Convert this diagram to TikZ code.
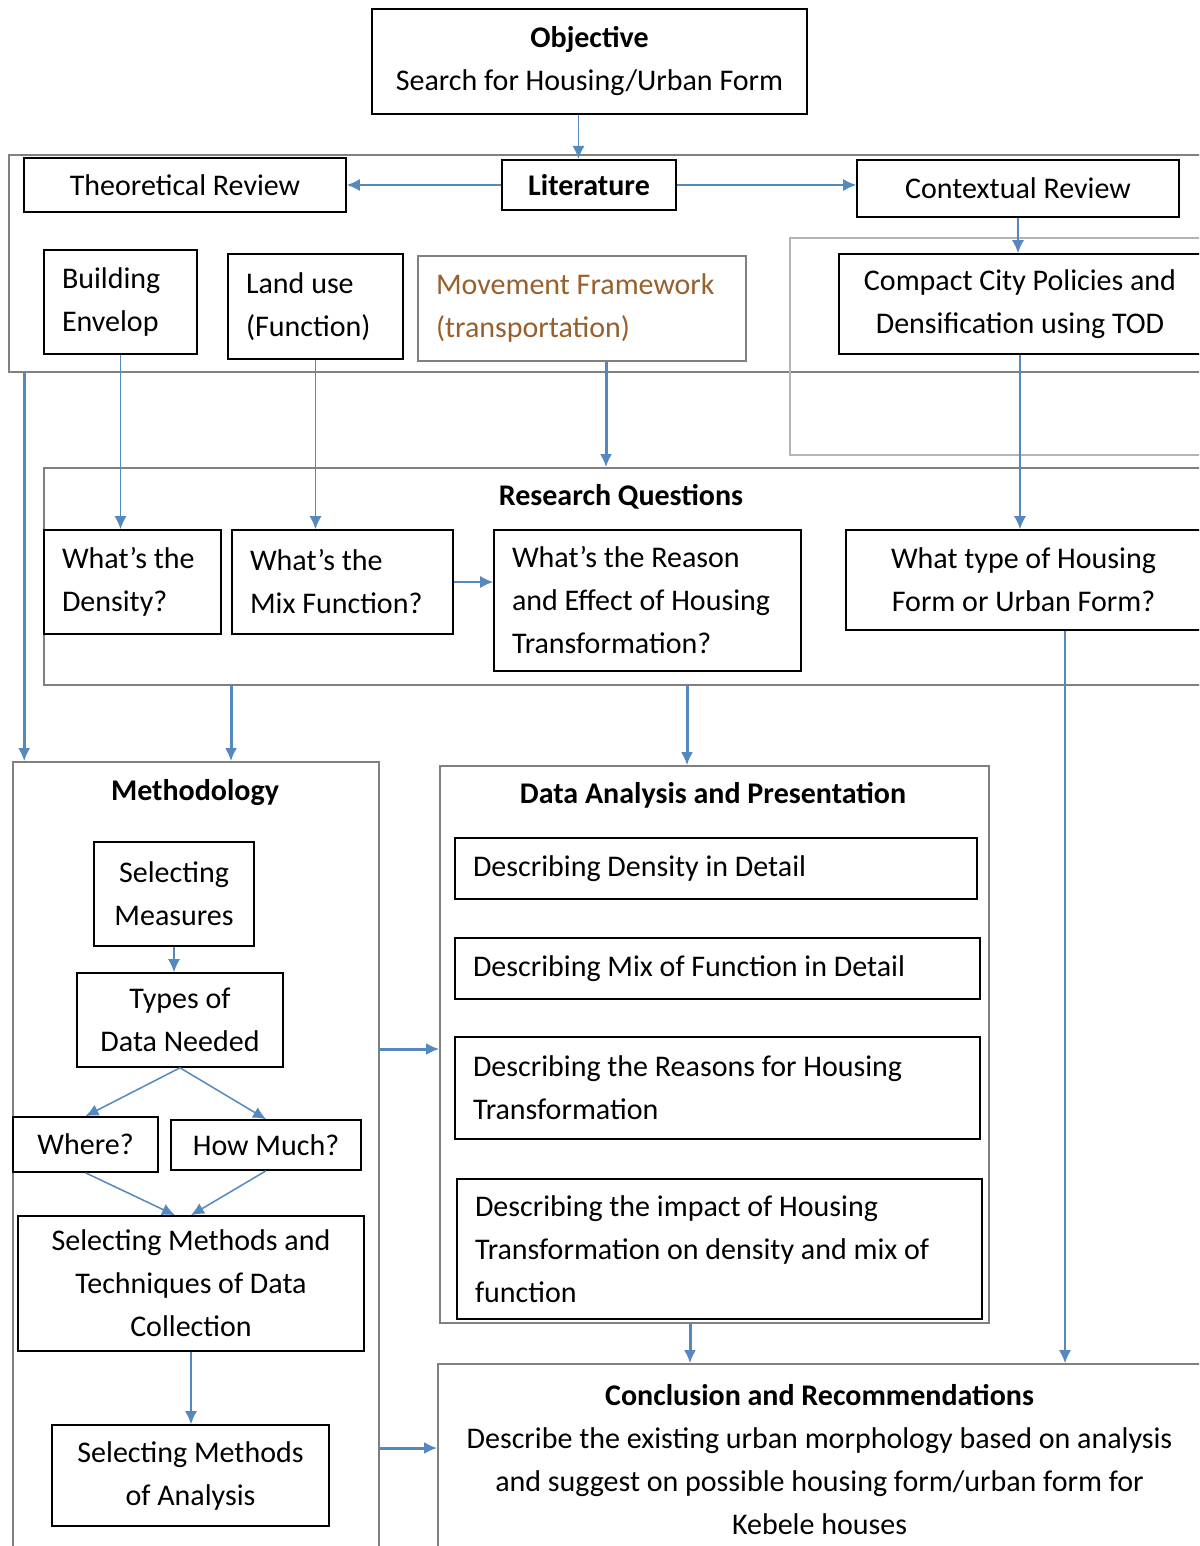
\documentclass[tikz,border=0pt]{standalone}
\usepackage{fontspec}
\setmainfont{Carlito}
\usetikzlibrary{arrows.meta}
\definecolor{arrowblue}{RGB}{84,136,190}
\definecolor{framegray}{RGB}{128,128,128}
\definecolor{lightframe}{RGB}{180,180,180}
\definecolor{movbrown}{RGB}{152,96,45}
\tikzstyle{box} = [rectangle, draw=black, line width=1.6pt, inner xsep=18pt, inner ysep=0pt]
\tikzstyle{leftbox} = [box, align=flush left]
\tikzstyle{midbox} = [box, align=center, inner xsep=4pt]
\tikzstyle{frame} = [rectangle, draw=framegray, line width=1.6pt, inner sep=0pt]
\tikzstyle{arrow} = [draw=arrowblue, line width=1.5pt, -{Latex[length=13pt,width=12pt]}]
\tikzstyle{thickarrow} = [arrow, line width=3pt]

\begin{document}
\begin{tikzpicture}[x=1pt, y=-1pt, every node/.style={font=\fontsize{30}{43}\selectfont}]
\path [use as bounding box, fill=white] (0,0) rectangle (1199,1546);
\clip (0,0) rectangle (1199,1546);

% frames
\node (litframe) [frame, minimum width=1206pt, minimum height=217pt] at (612,263.5) {};
\node (ctxframe) [frame, draw=lightframe, minimum width=425pt, minimum height=217pt] at (1002.5,346.5) {};
\node (rqframe) [frame, minimum width=1171pt, minimum height=217pt] at (629.5,576.5) {};
\node (meth) [frame, minimum width=366pt, minimum height=798pt] at (196,1161) {};
\node (data) [frame, minimum width=549pt, minimum height=557pt] at (714.5,1044.5) {};
\node (concl) [frame, align=center, minimum width=763pt, minimum height=192pt] at (819.5,1460) {\textbf{Conclusion and Recommendations}\\Describe the existing urban morphology based on analysis\\and suggest on possible housing form/urban form for\\Kebele houses};

\node (rqtitle) at (621,497) {\textbf{Research Questions}};
\node (methtitle) at (195,793) {\textbf{Methodology}};
\node (datatitle) at (713,795) {\textbf{Data Analysis and Presentation}};

% boxes
\node (obj) [midbox, minimum width=435pt, minimum height=105pt] at (589.5,61.5) {\textbf{Objective}\\Search for Housing/Urban Form};
\node (lit) [midbox, line width=2pt, minimum width=174pt, minimum height=50pt] at (589,185) {\textbf{Literature}};
\node (theo) [midbox, minimum width=322pt, minimum height=54pt] at (185,185) {Theoretical Review};
\node (ctx) [midbox, minimum width=322pt, minimum height=57pt] at (1018,188.5) {Contextual Review};
\node (bld) [leftbox, text width=117pt, minimum height=104pt] at (120.5,302) {Building\\Envelop};
\node (land) [leftbox, text width=139pt, minimum height=105pt] at (315.5,306.5) {Land use\\(Function)};
\node (mov) [leftbox, draw=framegray, text=movbrown, text width=292pt, minimum height=105pt] at (582,308.5) {Movement Framework\\(transportation)};
\node (compact) [midbox, minimum width=362pt, minimum height=100pt] at (1020,304) {Compact City Policies and\\Densification using TOD};
\node (dens) [leftbox, text width=141pt, minimum height=104pt] at (132.5,582) {What’s the\\Density?};
\node (mix) [leftbox, text width=185pt, minimum height=104pt] at (342.5,582) {What’s the\\Mix Function?};
\node (reason) [leftbox, text width=271pt, minimum height=141pt] at (647.5,600.5) {What’s the Reason\\and Effect of Housing\\Transformation?};
\node (htype) [midbox, minimum width=355pt, minimum height=100pt] at (1023.5,580) {What type of Housing\\Form or Urban Form?};
\node (selm) [midbox, minimum width=160pt, minimum height=104pt] at (174,894) {Selecting\\Measures};
\node (types) [midbox, minimum width=206pt, minimum height=94pt] at (180,1020) {Types of\\Data Needed};
\node (where) [midbox, minimum width=145pt, minimum height=55pt] at (85.5,1144.5) {Where?};
\node (howm) [midbox, minimum width=190pt, minimum height=50pt] at (266,1145) {How Much?};
\node (selc) [midbox, minimum width=346pt, minimum height=135pt] at (191,1283.5) {Selecting Methods and\\Techniques of Data\\Collection};
\node (sela) [midbox, minimum width=277pt, minimum height=101pt] at (190.5,1475.5) {Selecting Methods\\of Analysis};
\node (d1) [leftbox, text width=486pt, minimum height=61pt] at (716,868.5) {Describing Density in Detail};
\node (d2) [leftbox, text width=489pt, minimum height=61pt] at (717.5,968.5) {Describing Mix of Function in Detail};
\node (d3) [leftbox, text width=489pt, minimum height=102pt] at (717.5,1088) {Describing the Reasons for Housing\\Transformation};
\node (d4) [leftbox, text width=489pt, minimum height=140pt] at (719.5,1249) {Describing the impact of Housing\\Transformation on density and mix of\\function};

% connectors
\draw [arrow] ([xshift=-11pt]obj.south) -- ([xshift=-11pt]obj.south |- lit.north);
\draw [arrow] (lit.west) -- (theo.east);
\draw [arrow] (lit.east) -- (lit.east -| ctx.west);
\draw [arrow] (ctx.south) -- (ctx.south |- compact.north);
\draw [arrow] (bld.south) -- (bld.south |- dens.north);
\draw [arrow] (land.south) -- (land.south |- mix.north);
\draw [arrow] (compact.south) -- (compact.south |- htype.north);
\draw [thickarrow] ([xshift=24pt]mov.south) -- ([xshift=24pt]mov.south |- rqframe.north);
\draw [arrow] (mix.east) -- (mix.east -| reason.west);
\draw [arrow] ([xshift=41.5pt]htype.south) -- ([xshift=41.5pt]htype.south |- concl.north);
\draw [thickarrow] ([xshift=16pt]litframe.south west) -- ([xshift=16pt]litframe.south west |- meth.north);
\draw [thickarrow] ([xshift=35pt]rqframe.south -| meth.north) -- ([xshift=35pt]meth.north);
\draw [thickarrow] ([xshift=-27.5pt]rqframe.south -| data.north) -- ([xshift=-27.5pt]data.north);
\draw [arrow] (selm.south) -- (selm.south |- types.north);
\draw [arrow] (types.south) -- (where.north);
\draw [arrow] (types.south) -- (howm.north);
\draw [arrow] (where.south) -- ([xshift=-16pt]selc.north);
\draw [arrow] (howm.south) -- (selc.north);
\draw [arrow] (selc.south) -- (selc.south |- sela.north);
\draw [thickarrow] ([yshift=112pt]meth.east) -- ([yshift=112pt]meth.east -| data.west);
\draw [thickarrow] ([yshift=12pt]concl.west -| meth.east) -- ([yshift=12pt]concl.west);
\draw [thickarrow] ([xshift=-24.5pt]data.south) -- ([xshift=-24.5pt]data.south |- concl.north);
\end{tikzpicture}
\end{document}
